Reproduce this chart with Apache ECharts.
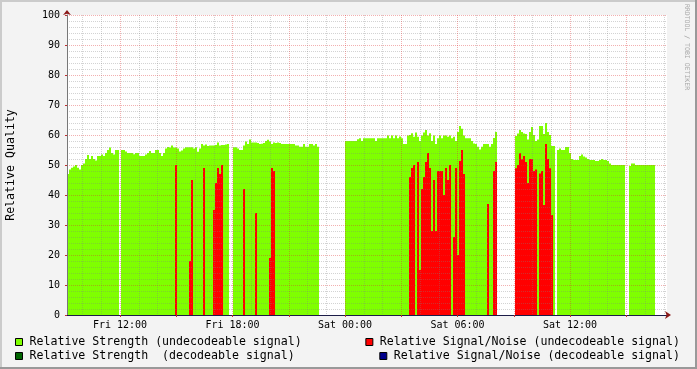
<!DOCTYPE html>
<html><head><meta charset="utf-8">
<script src="https://cdn.jsdelivr.net/npm/echarts@6/dist/echarts.min.js"></script>
<style>html,body{margin:0;padding:0;background:#f3f3f3}#c{width:697px;height:369px}</style>
</head><body><div id="c"></div>
<script>
const _ = null;
// time axis in hours since Fri 00:00
const startHour = 9.1733;
const endHour = 41.1733;
const sampleHours = 6.4 / 60;

const seriesNames = [
  'Relative Strength (undecodeable signal)',
  'Relative Strength  (decodeable signal)',
  'Relative Signal/Noise (undecodeable signal)',
  'Relative Signal/Noise (decodeable signal)'
];

const strength = [
  47,48.5,49.1,49.5,50,49.1,48.5,50,50.5,52,
  53.3,52,53,52,51.5,53,53,53.5,53,54,
  55,55.8,54,53.5,55,55,_,55,55,54.5,
  54,54,54,53.6,54,54,53,53,53,53.5,
  54,54.7,54,54,55,55,54,53,54,55.5,
  56,55.8,56.5,55.8,55.8,55.5,54.5,54.8,55.5,55.9,
  55.9,55.9,55.9,55.5,55.9,54.4,55.5,57,56.5,56.8,
  56.3,56.5,56.5,56.5,56.7,57.5,56.5,56.7,56.7,56.8,
  57,_,_,55.9,55.9,55.5,55,55,56.5,57.8,
  57,58.5,57.5,57.5,57.5,57.3,57,57.1,57.3,58,
  58.4,57.8,57,57.5,57.3,57.5,57.3,57,57,57,
  57,57,57,57,56.5,56.5,56.1,56.1,57,56.1,
  56.1,57,57,56.5,57,56.1,_,_,_,_,
  _,_,_,_,_,_,_,_,_,58,
  58,58,58,58,58,58.6,58.9,58,58.9,58.9,
  58.9,58.9,58.9,58.9,58,58.9,58.9,58.9,58.9,58.9,
  59.8,58.9,59.8,58.9,59.8,58.9,59.5,58.9,57,57,
  59.8,60,60.6,59.4,60.8,59.4,58,59.8,60.8,61.7,
  59.8,60.6,58,59.8,57,58.9,59.8,58.9,59.8,59.8,
  59.4,59.8,58.9,59.4,58,61,63,62.1,59.8,58.9,
  58.9,58.9,58,57.2,57,56.1,55.2,56.1,57,57,
  57,56.1,57,59,61,_,_,_,_,_,
  _,_,_,_,59.7,60.5,61.7,61,60.5,60.3,
  58.5,61,62.7,60,58,58.5,63,63,60.3,64,
  61,60,56.3,56.3,_,55,55.5,55,55,56,
  56,54,52,51.7,51.7,51.7,53,53.5,52.8,52.5,
  52,51.7,51.7,51.7,51.3,51.3,51.7,52,51.7,51.7,
  51.3,50.5,50,50,50,50,50,50,50,_,
  _,49.7,50.5,50.5,50,50,50,50,50,50,
  50,50,50,50,_,_,_,_,_,_
];

const strengthDecodeable = [];

const signalNoise = [
  _,_,_,_,_,_,_,_,_,_,
  _,_,_,_,_,_,_,_,_,_,
  _,_,_,_,_,_,_,_,_,_,
  _,_,_,_,_,_,_,_,_,_,
  _,_,_,_,_,_,_,_,_,_,
  _,_,_,_,50,_,_,_,_,_,
  _,18,45,_,_,_,_,_,49,_,
  _,_,_,35,44,49,47,50,_,_,
  _,_,_,_,_,_,_,_,42,_,
  _,_,_,_,34,_,_,_,_,_,
  _,19,49,48,_,_,_,_,_,_,
  _,_,_,_,_,_,_,_,_,_,
  _,_,_,_,_,_,_,_,_,_,
  _,_,_,_,_,_,_,_,_,_,
  _,_,_,_,_,_,_,_,_,_,
  _,_,_,_,_,_,_,_,_,_,
  _,_,_,_,_,_,_,_,_,_,
  _,46,49,50,_,51,15,42,46,51,
  54,49,28,45,28,48,48,48,40,49,
  45,50,_,26,49,20,51.3,55,47,_,
  _,_,_,_,_,_,_,_,_,_,
  37,_,_,48,51,_,_,_,_,_,
  _,_,_,_,48.9,50,53.9,51.9,53,51,
  44,52,52,48,48.5,_,47.2,48,36.7,57,
  52,48.9,33.3,_,_,_,_,_,_,_,
  _,_,_,_,_,_,_,_,_,_,
  _,_,_,_,_,_,_,_,_,_,
  _,_,_,_,_,_,_,_,_,_,
  _,_,_,_,_,_,_,_,_,_,
  _,_,_,_,_,_,_,_,_,_
];

const signalNoiseDecodeable = [];

const tickHours = [12, 18, 24, 30, 36];
const tickLabels = ['Fri 12:00', 'Fri 18:00', 'Sat 00:00', 'Sat 06:00', 'Sat 12:00'];

const mono = "'DejaVu Sans Mono', monospace";
const toPoints = arr => arr.map((v, i) => v == null ? null : [startHour + (i + 0.5) * sampleHours, v]).filter(p => p);
const hours = [];
for (let h = Math.ceil(startHour); h <= Math.floor(endHour); h++) hours.push(h);
const majorHours = hours.filter(h => h % 3 === 0);
const minorHours = hours.filter(h => h % 3 !== 0);
const gridMinor = 'rgba(130,130,130,0.35)';
const gridMajor = 'rgba(222,48,48,0.38)';

const chart = echarts.init(document.getElementById('c'), null, {renderer: 'canvas', width: 697, height: 369});

function barSeries(name, arr, color) {
  return {
    name: name, type: 'bar', xAxisIndex: 0, yAxisIndex: 0,
    data: toPoints(arr), barWidth: 2, barGap: '-100%',
    itemStyle: {color: color}, silent: true, emphasis: {disabled: true}
  };
}

const legendCommon = {
  orient: 'horizontal', padding: 0, itemWidth: 7, itemHeight: 7, icon: 'rect',
  selectedMode: false, itemGap: 0,
  itemStyle: {borderColor: '#000', borderWidth: 1},
  textStyle: {fontFamily: mono, fontSize: 11.6, color: '#000', padding: [0, 0, 0, 2]}
};

chart.setOption({
  animation: false,
  backgroundColor: '#f3f3f3',
  grid: {left: 67, top: 15, width: 600, height: 300, show: true, backgroundColor: '#ffffff', borderWidth: 0, outerBoundsMode: 'none'},
  xAxis: [
    {
      type: 'value', min: startHour, max: endHour, position: 'bottom', z: 10,
      axisLine: {show: true, onZero: false, lineStyle: {color: '#1c1c48', width: 1}},
      axisTick: {show: true, customValues: majorHours, length: 2, lineStyle: {color: '#c03030'}},
      axisLabel: {show: true, customValues: tickHours, margin: 5, fontFamily: mono, fontSize: 10, color: '#000',
        formatter: v => tickLabels[tickHours.indexOf(Math.round(v))] || ''},
      splitLine: {show: true, lineStyle: {color: gridMajor, type: [1, 1], width: 1}}
    },
    {
      type: 'value', min: startHour, max: endHour, position: 'bottom', z: 9,
      axisLine: {show: false, onZero: false},
      axisTick: {show: false, customValues: minorHours},
      axisLabel: {show: false},
      splitLine: {show: true, lineStyle: {color: gridMinor, type: [1, 1], width: 1}}
    },
    {
      type: 'value', min: startHour, max: endHour, position: 'bottom', z: 11,
      axisLine: {show: true, onZero: false, symbol: ['none', 'arrow'], symbolSize: [6, 6], symbolOffset: [0, 4],
        lineStyle: {color: '#8b1a1a', width: 0}},
      axisTick: {show: false}, axisLabel: {show: false}, splitLine: {show: false}
    }
  ],
  yAxis: [
    {
      type: 'value', min: 0, max: 100, interval: 10, position: 'left', z: 10,
      name: 'Relative Quality', nameLocation: 'middle', nameGap: 50, nameRotate: 90, nameMoveOverlap: false,
      nameTextStyle: {fontFamily: mono, fontSize: 11.6, color: '#000'},
      axisLine: {show: true, lineStyle: {color: '#777'}},
      axisTick: {show: true, length: 2, lineStyle: {color: '#c03030'}},
      axisLabel: {margin: 7, fontFamily: mono, fontSize: 10, color: '#000'},
      splitLine: {show: true, lineStyle: {color: gridMajor, type: [1, 1], width: 1}},
      minorTick: {show: false, splitNumber: 5},
      minorSplitLine: {show: true, lineStyle: {color: gridMinor, type: [1, 1], width: 1}}
    },
    {
      type: 'value', min: 0, max: 100, interval: 10, position: 'left', z: 11,
      axisLine: {show: true, symbol: ['none', 'arrow'], symbolSize: [6, 5], symbolOffset: [0, 5],
        lineStyle: {color: '#8b1a1a', width: 0}},
      axisTick: {show: false}, axisLabel: {show: false}, splitLine: {show: false}
    }
  ],
  legend: [
    Object.assign({data: [seriesNames[0]], left: 15, top: 336}, legendCommon),
    Object.assign({data: [seriesNames[1]], left: 15, top: 350}, legendCommon),
    Object.assign({data: [seriesNames[2]], right: 17, top: 336}, legendCommon),
    Object.assign({data: [seriesNames[3]], right: 17, top: 350}, legendCommon)
  ],
  graphic: [
    {type: 'rect', silent: true, shape: {x: 0, y: 0, width: 697, height: 2}, style: {fill: '#cbcbcb'}},
    {type: 'rect', silent: true, shape: {x: 0, y: 0, width: 2, height: 369}, style: {fill: '#cbcbcb'}},
    {type: 'rect', silent: true, shape: {x: 0, y: 367, width: 697, height: 2}, style: {fill: '#999999'}},
    {type: 'rect', silent: true, shape: {x: 695, y: 0, width: 2, height: 369}, style: {fill: '#999999'}},
    {type: 'text', silent: true, x: 687, y: 47, rotation: -Math.PI / 2,
      style: {text: 'RRDTOOL / TOBI OETIKER', fill: '#a8a8a8', font: "6.5px 'DejaVu Sans Mono'", align: 'center', verticalAlign: 'middle'}}
  ],
  series: [
    barSeries(seriesNames[0], strength, '#7fff00'),
    barSeries(seriesNames[1], strengthDecodeable, '#006400'),
    barSeries(seriesNames[2], signalNoise, '#ff0000'),
    barSeries(seriesNames[3], signalNoiseDecodeable, '#00008b')
  ]
});
</script>
</body></html>
